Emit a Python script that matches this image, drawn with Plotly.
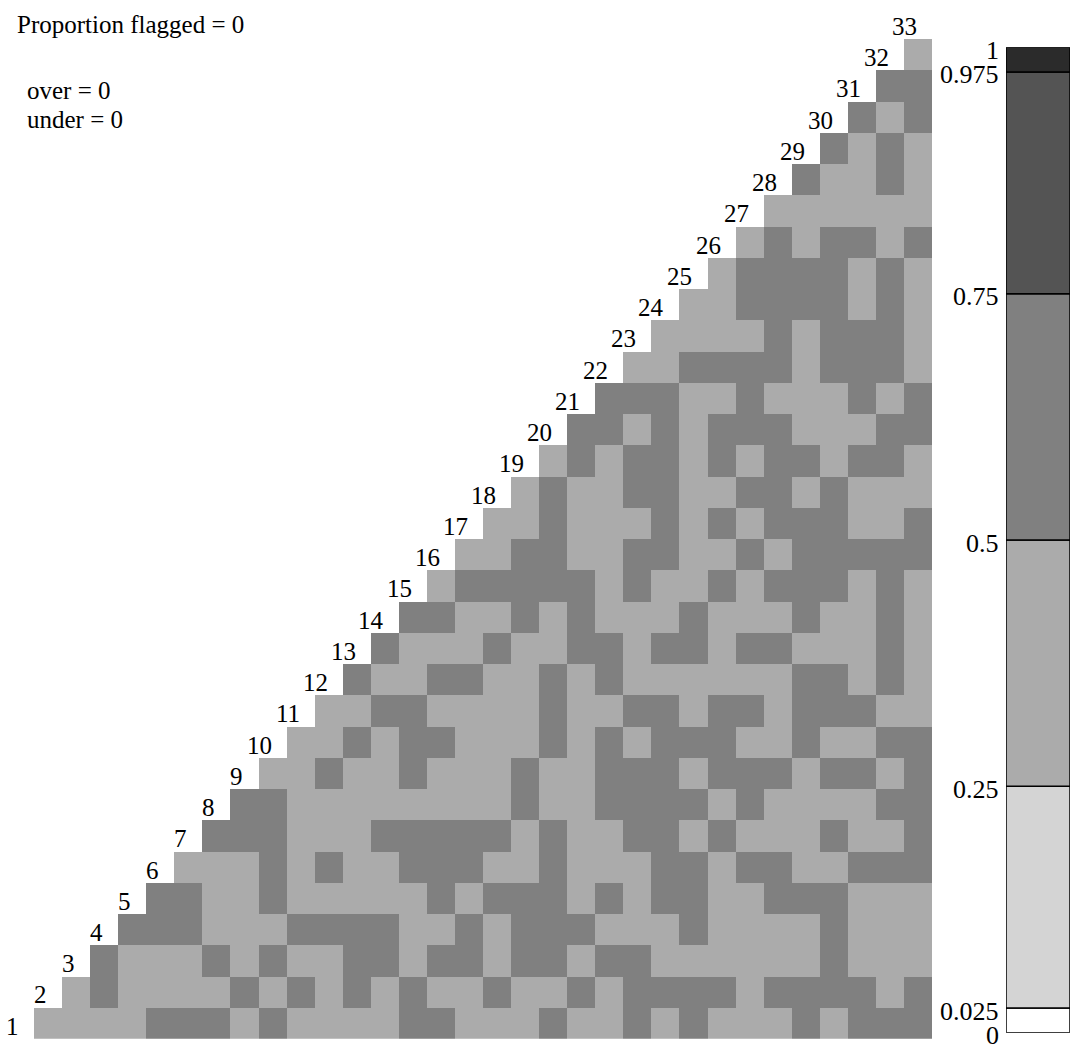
import plotly.graph_objects as go

# Pairwise p-values, one list per row (row 1 at the bottom).
# Row r covers columns r..32 of the triangle.
row01 = [0.4, 0.4, 0.4, 0.4, 0.6, 0.6, 0.6, 0.4, 0.6, 0.4, 0.4, 0.4, 0.4, 0.6, 0.6, 0.4, 0.4, 0.4, 0.6, 0.4, 0.4, 0.6, 0.4, 0.6, 0.4, 0.4, 0.4, 0.6, 0.4, 0.6, 0.6, 0.6]
row02 = [0.4, 0.6, 0.4, 0.4, 0.4, 0.4, 0.6, 0.4, 0.6, 0.4, 0.6, 0.4, 0.6, 0.4, 0.4, 0.6, 0.4, 0.4, 0.6, 0.4, 0.6, 0.6, 0.6, 0.6, 0.4, 0.6, 0.6, 0.6, 0.6, 0.4, 0.6]
row03 = [0.6, 0.4, 0.4, 0.4, 0.6, 0.4, 0.6, 0.4, 0.4, 0.6, 0.6, 0.4, 0.6, 0.6, 0.4, 0.6, 0.6, 0.4, 0.6, 0.6, 0.4, 0.4, 0.4, 0.4, 0.4, 0.4, 0.6, 0.4, 0.4, 0.4]
row04 = [0.6, 0.6, 0.6, 0.4, 0.4, 0.4, 0.6, 0.6, 0.6, 0.6, 0.4, 0.4, 0.6, 0.4, 0.6, 0.6, 0.6, 0.4, 0.4, 0.4, 0.6, 0.4, 0.4, 0.4, 0.4, 0.6, 0.4, 0.4, 0.4]
row05 = [0.6, 0.6, 0.4, 0.4, 0.6, 0.4, 0.4, 0.4, 0.4, 0.4, 0.6, 0.4, 0.6, 0.6, 0.6, 0.4, 0.6, 0.4, 0.6, 0.6, 0.4, 0.4, 0.6, 0.6, 0.6, 0.4, 0.4, 0.4]
row06 = [0.4, 0.4, 0.4, 0.6, 0.4, 0.6, 0.4, 0.4, 0.6, 0.6, 0.6, 0.4, 0.4, 0.6, 0.4, 0.4, 0.4, 0.6, 0.6, 0.4, 0.6, 0.6, 0.4, 0.4, 0.6, 0.6, 0.6]
row07 = [0.6, 0.6, 0.6, 0.4, 0.4, 0.4, 0.6, 0.6, 0.6, 0.6, 0.6, 0.4, 0.6, 0.4, 0.4, 0.6, 0.6, 0.4, 0.6, 0.4, 0.4, 0.4, 0.6, 0.4, 0.4, 0.6]
row08 = [0.6, 0.6, 0.4, 0.4, 0.4, 0.4, 0.4, 0.4, 0.4, 0.4, 0.6, 0.4, 0.4, 0.6, 0.6, 0.6, 0.6, 0.4, 0.6, 0.4, 0.4, 0.4, 0.4, 0.6, 0.6]
row09 = [0.4, 0.4, 0.6, 0.4, 0.4, 0.6, 0.4, 0.4, 0.4, 0.6, 0.4, 0.4, 0.6, 0.6, 0.6, 0.4, 0.6, 0.6, 0.6, 0.4, 0.6, 0.6, 0.4, 0.6]
row10 = [0.4, 0.4, 0.6, 0.4, 0.6, 0.6, 0.4, 0.4, 0.4, 0.6, 0.4, 0.6, 0.4, 0.6, 0.6, 0.6, 0.4, 0.4, 0.6, 0.4, 0.4, 0.6, 0.6]
row11 = [0.4, 0.4, 0.6, 0.6, 0.4, 0.4, 0.4, 0.4, 0.6, 0.4, 0.4, 0.6, 0.6, 0.4, 0.6, 0.6, 0.4, 0.6, 0.6, 0.6, 0.4, 0.4]
row12 = [0.6, 0.4, 0.4, 0.6, 0.6, 0.4, 0.4, 0.6, 0.4, 0.6, 0.4, 0.4, 0.4, 0.4, 0.4, 0.4, 0.6, 0.6, 0.4, 0.6, 0.4]
row13 = [0.6, 0.4, 0.4, 0.4, 0.6, 0.4, 0.4, 0.6, 0.6, 0.4, 0.6, 0.6, 0.4, 0.6, 0.6, 0.4, 0.4, 0.4, 0.6, 0.4]
row14 = [0.6, 0.6, 0.4, 0.4, 0.6, 0.4, 0.6, 0.4, 0.4, 0.4, 0.6, 0.4, 0.4, 0.4, 0.6, 0.4, 0.4, 0.6, 0.4]
row15 = [0.4, 0.6, 0.6, 0.6, 0.6, 0.6, 0.4, 0.6, 0.4, 0.4, 0.6, 0.4, 0.6, 0.6, 0.6, 0.4, 0.6, 0.4]
row16 = [0.4, 0.4, 0.6, 0.6, 0.4, 0.4, 0.6, 0.6, 0.4, 0.4, 0.6, 0.4, 0.6, 0.6, 0.6, 0.6, 0.6]
row17 = [0.4, 0.4, 0.6, 0.4, 0.4, 0.4, 0.6, 0.4, 0.6, 0.4, 0.6, 0.6, 0.6, 0.4, 0.4, 0.6]
row18 = [0.4, 0.6, 0.4, 0.4, 0.6, 0.6, 0.4, 0.4, 0.6, 0.6, 0.4, 0.6, 0.4, 0.4, 0.4]
row19 = [0.4, 0.6, 0.4, 0.6, 0.6, 0.4, 0.6, 0.4, 0.6, 0.6, 0.4, 0.6, 0.6, 0.4]
row20 = [0.6, 0.6, 0.4, 0.6, 0.4, 0.6, 0.6, 0.6, 0.4, 0.4, 0.4, 0.6, 0.6]
row21 = [0.6, 0.6, 0.6, 0.4, 0.4, 0.6, 0.4, 0.4, 0.4, 0.6, 0.4, 0.6]
row22 = [0.4, 0.4, 0.6, 0.6, 0.6, 0.6, 0.4, 0.6, 0.6, 0.6, 0.4]
row23 = [0.4, 0.4, 0.4, 0.4, 0.6, 0.4, 0.6, 0.6, 0.6, 0.4]
row24 = [0.4, 0.4, 0.6, 0.6, 0.6, 0.6, 0.4, 0.6, 0.4]
row25 = [0.4, 0.6, 0.6, 0.6, 0.6, 0.4, 0.6, 0.4]
row26 = [0.4, 0.6, 0.4, 0.6, 0.6, 0.4, 0.6]
row27 = [0.4, 0.4, 0.4, 0.4, 0.4, 0.4]
row28 = [0.6, 0.4, 0.4, 0.6, 0.4]
row29 = [0.6, 0.4, 0.6, 0.4]
row30 = [0.6, 0.4, 0.6]
row31 = [0.6, 0.6]
row32 = [0.4]

rows = [row01, row02, row03, row04, row05, row06, row07, row08, row09, row10,
        row11, row12, row13, row14, row15, row16, row17, row18, row19, row20,
        row21, row22, row23, row24, row25, row26, row27, row28, row29, row30,
        row31, row32]

# Diagonal item labels 1..33
item_labels = [str(k) for k in range(1, 34)]

# Colour bands of the p-value scale
band_edges = [0, 0.025, 0.25, 0.5, 0.75, 0.975, 1]
band_colors = ["#ffffff", "#d4d4d4", "#ababab", "#808080", "#545454", "#2b2b2b"]
tick_labels = ["0", "0.025", "0.25", "0.5", "0.75", "0.975", "1"]

summary_lines = ["Proportion flagged = 0", "over = 0", "under = 0"]

n = len(rows)
cols = list(range(1, n + 1))
z = []
for r, vals in enumerate(rows, start=1):
    z.append([None] * (n - len(vals)) + vals)

# Discrete colourscale built from the bands
colorscale = []
for lo, hi, c in zip(band_edges[:-1], band_edges[1:], band_colors):
    colorscale.append([lo, c])
    colorscale.append([hi, c])

W, H = 1073, 1051
FONT = "Times New Roman, Liberation Serif, DejaVu Serif, serif"

# pixel geometry of the grid
X0, X1 = 34, 932
Y0, Y1 = 1038.7, 39
cell_w = (X1 - X0) / n

fig = go.Figure()
fig.add_trace(go.Heatmap(
    x=cols, y=cols, z=z, zmin=0, zmax=1, colorscale=colorscale,
    showscale=False, hoverongaps=False, xgap=0, ygap=0,
))

# Legend bar for the scale
fig.add_trace(go.Bar(
    x=[0] * (len(band_edges) - 1),
    base=band_edges[:-1],
    y=[hi - lo for lo, hi in zip(band_edges[:-1], band_edges[1:])],
    width=1,
    marker=dict(color=band_colors, line=dict(color="black", width=1.5)),
    xaxis="x2", yaxis="y2", cliponaxis=False, showlegend=False,
    hoverinfo="skip",
))

annotations = []
# each label sits just left of the first cell of its row
for k, lab in enumerate(item_labels, start=1):
    annotations.append(dict(
        x=k - 0.5, y=k - 0.5, xref="x", yref="y", text=lab,
        xanchor="right", yanchor="bottom", showarrow=False,
        font=dict(family=FONT, size=25, color="black"),
        xshift=-cell_w / 2 + 1, yshift=-3,
    ))

for v, lab in zip(band_edges, tick_labels):
    annotations.append(dict(
        x=1001 / W, y=v, xref="paper", yref="y2", text=lab,
        xanchor="right", yanchor="middle", showarrow=False,
        font=dict(family=FONT, size=26, color="black"),
        yshift=-3,
    ))

text_pos = [(15, 25), (25, 91), (25, 119)]
for (px, py), t in zip(text_pos, summary_lines):
    annotations.append(dict(
        x=px / W, y=1 - py / H, xref="paper", yref="paper", text=t,
        xanchor="left", yanchor="middle", showarrow=False,
        font=dict(family=FONT, size=25, color="black"),
    ))

hidden = dict(showgrid=False, zeroline=False, showticklabels=False,
              ticks="", showline=False, fixedrange=True)

fig.update_layout(
    width=W, height=H,
    margin=dict(l=0, r=0, t=0, b=0),
    paper_bgcolor="white", plot_bgcolor="white",
    font=dict(family=FONT),
    showlegend=False, barmode="overlay",
    xaxis=dict(domain=[X0 / W, X1 / W], range=[0.5, n + 0.5], **hidden),
    yaxis=dict(domain=[1 - Y0 / H, 1 - Y1 / H], range=[0.5, n + 0.5], **hidden),
    xaxis2=dict(domain=[1006 / W, 1070 / W], range=[-0.5, 0.5], anchor="y2", **hidden),
    yaxis2=dict(domain=[1 - 1032.7 / H, 1 - 47.3 / H], range=[0, 1], anchor="x2", **hidden),
    annotations=annotations,
)

fig.write_html("out.html")
